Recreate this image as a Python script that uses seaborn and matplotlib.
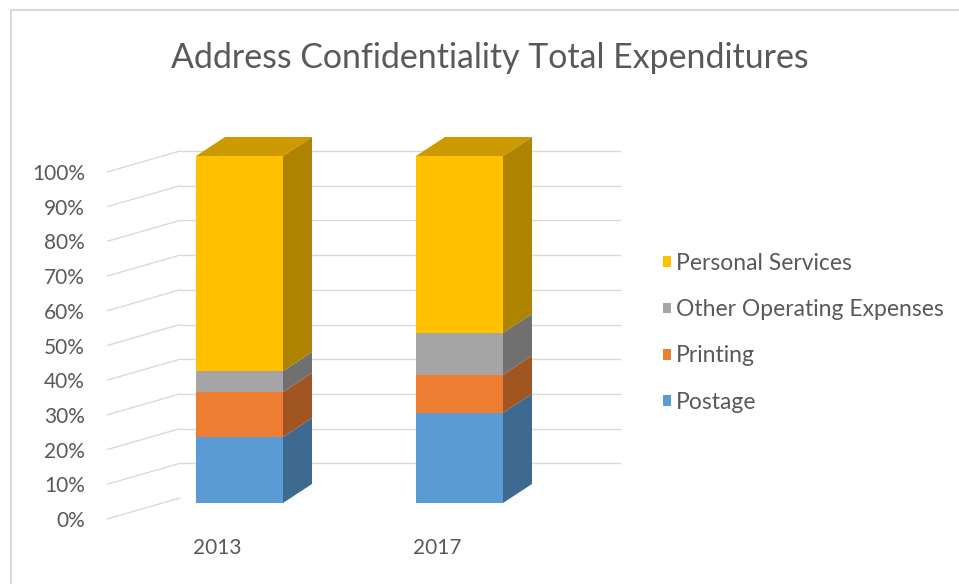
import matplotlib
matplotlib.use("Agg")
import matplotlib.pyplot as plt
import seaborn as sns
import numpy as np
import pandas as pd
from matplotlib.lines import Line2D

# ---- data ----
years = ["2013", "2017"]
series = ["Postage", "Printing", "Other Operating Expenses", "Personal Services"]
postage = [19, 26]
printing = [13, 11]
other_ops = [6, 12]
personal = [62, 51]
colors = ["#5B9BD5", "#ED7D31", "#A5A5A5", "#FFC000"]
ytick_vals = [0, 10, 20, 30, 40, 50, 60, 70, 80, 90, 100]
ytick_labels = ["0%", "10%", "20%", "30%", "40%", "50%", "60%", "70%", "80%", "90%", "100%"]
title = "Address Confidentiality Total Expenditures"

values = [postage, printing, other_ops, personal]
arr = np.array(values, dtype=float) / 100.0
cum = np.cumsum(arr, axis=0)
bottoms = cum - arr

sns.set_theme(style="white")
plt.rcParams["font.family"] = ["Lato", "DejaVu Sans"]
TXT = "#595959"

W, H = 959, 584
fig = plt.figure(figsize=(W / 100, H / 100), dpi=100)

# pixel mapping: front face 0 -> y=503px, 1 -> y=156px ; category 0 -> x=239.5, 1 -> x=459.5
ypx0, ypx1 = 503.0, 156.0
yspan = ypx0 - ypx1
xpx0, xstep = 239.5, 220.0
ylo, yhi = -0.10, 1.15
xlo, xhi = (107 - xpx0) / xstep, (640 - xpx0) / xstep
ax_left = 107 / W
ax_w = (640 - 107) / W
top_px = ypx0 - yhi * yspan
bot_px = ypx0 - ylo * yspan
ax = fig.add_axes([ax_left, (H - bot_px) / H, ax_w, (bot_px - top_px) / H])

bar_w = 87 / xstep
dx = 29 / xstep
dy = 19 / yspan
front_off = -16 / yspan   # label plane
back_off = 5 / yspan      # back wall
back_x0 = (180 - xpx0) / xstep
back_x1 = (620 - xpx0) / xstep

# back wall gridlines and side wall diagonals
grid_c = "#D9D9D9"
for v in ytick_vals:
    f = v / 100.0
    if v > 0:
        ax.plot([back_x0, back_x1], [f + back_off, f + back_off], color=grid_c, lw=1.0, zorder=0)
    ax.plot([xlo, back_x0], [f + front_off, f + back_off], color=grid_c, lw=1.0, zorder=0)

def shade(c, k):
    r, g, b = matplotlib.colors.to_rgb(c)
    return (r * k, g * k, b * k)

# front faces via seaborn (cumulative, drawn from top down)
for idx in reversed(range(len(series))):
    df = pd.DataFrame({"year": years, "value": cum[idx]})
    sns.barplot(data=df, x="year", y="value", color=colors[idx], saturation=1,
                width=bar_w, label=series[idx], ax=ax, linewidth=0, edgecolor="none",
                errorbar=None, zorder=3)
if ax.get_legend() is not None:
    ax.get_legend().remove()

# side and top faces derived from data
for i in range(len(years)):
    xr = i + bar_w / 2
    for idx in range(len(series)):
        b, t = bottoms[idx, i], cum[idx, i]
        ax.fill([xr, xr + dx, xr + dx, xr], [b, b + dy, t + dy, t],
                color=shade(colors[idx], 0.68), lw=0, zorder=3)
    topv = cum[-1, i]
    xl = i - bar_w / 2
    ax.fill([xl, xl + dx, xr + dx, xr], [topv, topv + dy, topv + dy, topv],
            color=shade(colors[-1], 0.80), lw=0, zorder=3)

ax.set_xlim(xlo, xhi)
ax.set_ylim(ylo, yhi)
for s in ax.spines.values():
    s.set_visible(False)
ax.set_xlabel("")
ax.set_ylabel("")
ax.set_yticks([v / 100.0 + front_off for v in ytick_vals])
ax.set_yticklabels(ytick_labels, color=TXT, fontsize=15)
ax.tick_params(axis="y", length=0, pad=16)
ax.set_xticks([i - 0.10 for i in range(len(years))])
ax.set_xticklabels(years, color=TXT, fontsize=15)
ax.tick_params(axis="x", length=0, pad=0)

# legend
handles, labels = ax.get_legend_handles_labels()
leg = fig.legend(handles, labels, loc="upper left", bbox_to_anchor=(663 / W, 1 - 253 / H),
                 frameon=False, fontsize=16.5, handlelength=0.35, handleheight=0.35,
                 handletextpad=0.2, labelspacing=1.1, borderaxespad=0, borderpad=0)
for t in leg.get_texts():
    t.set_color(TXT)

fig.text(490 / W, 1 - 58 / H, title, ha="center", va="center", fontsize=24.4, color=TXT)

# chart area border (left & top visible)
fig.add_artist(Line2D([11 / W, 11 / W], [0, 1 - 10 / H], color="#D9D9D9", lw=1.5))
fig.add_artist(Line2D([11 / W, 1], [1 - 10 / H, 1 - 10 / H], color="#D9D9D9", lw=1.5))

fig.savefig("out.png", dpi=100, facecolor="white")
